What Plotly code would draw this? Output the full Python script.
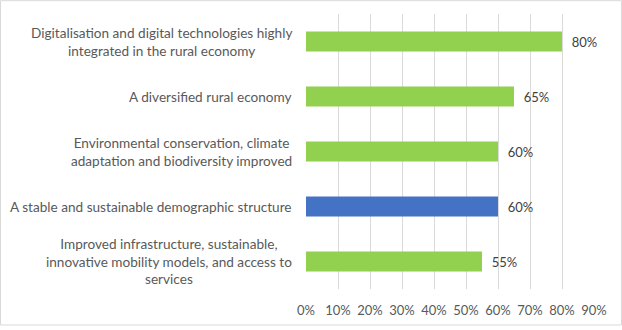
import plotly.graph_objects as go

categories = [
    "Digitalisation and digital technologies highly<br>integrated in the rural economy",
    "A diversified rural economy",
    "Environmental conservation, climate<br>adaptation and biodiversity improved",
    "A stable and sustainable demographic structure",
    "Improved infrastructure, sustainable,<br>innovative mobility models, and access to<br>services",
]
values = [0.80, 0.65, 0.60, 0.60, 0.55]
colors = ["#92D050", "#92D050", "#92D050", "#4472C4", "#92D050"]
x_ticks = [0, 0.1, 0.2, 0.3, 0.4, 0.5, 0.6, 0.7, 0.8, 0.9]

W, H = 622, 330
ml, mr, mt, mb = 306, 28, 14, 37
FONT = "Lato, Carlito, Calibri, sans-serif"

keys = [f"c{i}" for i in range(len(categories))]

fig = go.Figure(go.Bar(
    y=keys, x=values, orientation="h",
    marker=dict(color=colors, line=dict(width=0)),
    width=0.36,
    text=values, texttemplate="\u00a0\u00a0%{x:.0%}", textposition="outside",
    textfont=dict(family=FONT, size=13, color="#404040"),
    cliponaxis=False,
))

annotations = []
for k, c in zip(keys, categories):
    annotations.append(dict(
        x=0, xref="paper", y=k, yref="y", text=c, showarrow=False,
        xanchor="right", yanchor="middle", align="center", xshift=-12,
        font=dict(family=FONT, size=13.6, color="#595959"),
    ))

pw = W - ml - mr
ph = H - mt - mb
shapes = [dict(
    type="rect", xref="paper", yref="paper",
    x0=(0.5 - ml) / pw, x1=(W - 0.5 - ml) / pw,
    y0=(-(mb) + 0.5) / ph, y1=(ph + mt - 0.5) / ph,
    line=dict(color="#D9D9D9", width=1), fillcolor="rgba(0,0,0,0)", layer="below",
)]

fig.update_layout(
    width=W, height=H,
    margin=dict(l=ml, r=mr, t=mt, b=mb, pad=0),
    paper_bgcolor="white", plot_bgcolor="white",
    showlegend=False,
    annotations=annotations, shapes=shapes,
    xaxis=dict(
        range=[0, 0.9], tickvals=x_ticks, tickformat=".0%",
        showgrid=True, gridcolor="#D9D9D9", gridwidth=1,
        zeroline=False, showline=False,
        tickfont=dict(family=FONT, size=13, color="#595959"),
        ticks="", ticklabelstandoff=12,
        fixedrange=True,
    ),
    yaxis=dict(
        categoryorder="array", categoryarray=keys[::-1],
        autorange=True, showticklabels=False, showgrid=False,
        zeroline=False, showline=False, ticks="",
        fixedrange=True,
    ),
    bargap=0.64,
)

fig.write_html("out.html")
